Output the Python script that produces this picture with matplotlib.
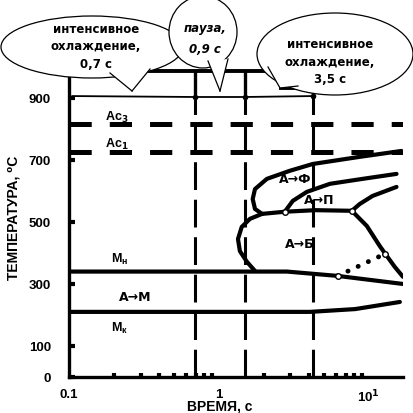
import numpy as np
import matplotlib
matplotlib.use("Agg")
import matplotlib.pyplot as plt
from matplotlib.patches import Ellipse, Polygon

plt.rcParams['font.family'] = ['Liberation Sans', 'DejaVu Sans']
plt.rcParams['font.weight'] = 'bold'
plt.rcParams['lines.scale_dashes'] = False

# critical temperatures, C
ac3 = 815
ac1 = 727
# moments of the cooling steps, s
step_times = [0.69, 1.49, 4.23]

# transformation curves (time s, temperature C)
ferrite_start_t = [16.5, 8.7, 4.23, 2.97, 2.09, 1.74, 1.68, 1.74, 1.94]
ferrite_start_T = [729, 710, 687, 665, 639, 606, 574, 542, 526]
pearlite_start_t = [15.3, 9.1, 5.5, 3.86, 3.11, 2.75]
pearlite_start_T = [655, 639, 623, 597, 568, 533]
pearlite_end_t = [15.3, 10.6, 8.7, 7.7]
pearlite_end_T = [613, 584, 558, 536]
bay_t = [1.94, 2.75, 4.4, 7.7]
bay_T = [526, 533, 538, 536]
bainite_start_t = [1.94, 1.61, 1.42, 1.34, 1.38, 1.54, 1.74]
bainite_start_T = [526, 510, 484, 445, 406, 371, 342]
bainite_end_t = [7.7, 9.7, 11.8, 13.2, 14.9, 16.9]
bainite_end_T = [536, 487, 423, 390, 355, 323]
dotted_t = [6.2, 12.8]
dotted_T = [326, 397]
ms_t = [0.1, 2.84, 6.2, 16.9]
ms_T = [340, 340, 326, 300]
mf_t = [0.1, 4.04, 8.1, 16.1]
mf_T = [210, 210, 219, 242]

# cooling schedule at the top
cool_t = [0.1, 0.105, 0.69, 1.49, 4.23, 4.23]
cool_T = [897, 906, 903, 903, 906, 935]
top_t = [0.30, 2.55]
top_T = [987, 987]
low_top_t = [2.6, 4.23]
low_top_T = [932, 932]

joints_t = [2.75, 7.7, 6.2, 12.8]
joints_T = [533, 536, 326, 397]

yticks = [0, 100, 300, 500, 700, 900]
xticks = [0.1, 1, 10]
xticklabels = ['0.1', '1', '10$^1$']

W, H = 413, 414
fig = plt.figure(figsize=(W / 100, H / 100), dpi=100)
ax = fig.add_axes([69 / W, 36 / H, 334 / W, 378 / H])
ax.set_xscale('log')
ax.set_xlim(0.1, 16.9)
ax.set_ylim(0, 1219)

for s in ['top', 'right']:
    ax.spines[s].set_visible(False)
ax.spines['left'].set_linewidth(2.4)
ax.spines['bottom'].set_linewidth(2.4)
ax.spines['left'].set_bounds(0, 968)

lw_main = 3.0
kw = dict(color='black', lw=lw_main, solid_capstyle='round', solid_joinstyle='round')

# critical lines
ax.axhline(ac3, color='black', lw=3.6, dashes=(16, 13))
ax.axhline(ac1, color='black', lw=3.6, dashes=(16, 13))
for t in step_times:
    ax.plot([t, t], [0, 906], color='black', lw=2.2, dashes=(20, 7))
for t in step_times[:2]:
    ax.plot([t, t], [903, 987], color='black', lw=2.4)
ax.plot([step_times[2], step_times[2]], [906, 935], color='black', lw=2.4)

ax.plot(cool_t, cool_T, color='black', lw=1.3)
ax.plot(top_t, top_T, color='black', lw=2.8)
ax.plot(low_top_t, low_top_T, color='black', lw=2.8)
ax.plot(step_times, [903, 903, 906], 'o', color='black', ms=3)

ax.plot(ferrite_start_t, ferrite_start_T, **kw)
ax.plot(pearlite_start_t, pearlite_start_T, **kw)
ax.plot(pearlite_end_t, pearlite_end_T, **kw)
ax.plot(bay_t, bay_T, **kw)
ax.plot(bainite_start_t, bainite_start_T, **kw)
ax.plot(bainite_end_t, bainite_end_T, **kw)
ax.plot(ms_t, ms_T, **kw)
ax.plot(mf_t, mf_T, **kw)
ax.plot(dotted_t, dotted_T, color='black', lw=3.5, dashes=(0.1, 8),
        dash_capstyle='round')
ax.plot(joints_t, joints_T, 'o', ms=4, mfc='white', mec='black', mew=1)

# labels inside the diagram
fs = 9
dv = ['DejaVu Sans']
ax.text(0.208, 839, 'Ac$_3$', fontsize=fs, ha='center', va='center')
ax.text(0.208, 752, 'Ac$_1$', fontsize=fs, ha='center', va='center')
ax.text(0.218, 381, 'M$_{\\mathregular{н}}$', fontsize=fs, ha='center', va='center')
ax.text(0.276, 261, 'А→М', fontsize=fs, ha='center', va='center', family=dv)
ax.text(0.218, 161, 'M$_{\\mathregular{к}}$', fontsize=fs, ha='center', va='center')
ax.text(3.21, 639, 'А→Ф', fontsize=fs, ha='center', va='center', family=dv)
ax.text(4.7, 574, 'А→П', fontsize=fs, ha='center', va='center', family=dv)
ax.text(3.46, 429, 'А→Б', fontsize=fs, ha='center', va='center', family=dv)

ax.set_yticks(yticks)
ax.set_yticklabels([str(v) for v in yticks], fontsize=9.5, fontweight='bold')
ax.tick_params(axis='y', direction='in', length=4, width=3, pad=13)
ax.set_xticks(xticks)
ax.set_xticklabels(xticklabels, fontsize=9.5, fontweight='bold')
ax.tick_params(axis='x', which='major', length=0, pad=8)
ax.tick_params(axis='x', which='minor', direction='in', length=3, width=3)
ax.xaxis.set_minor_formatter(plt.NullFormatter())

fig.text(220 / W, 1 - 407 / H, 'ВРЕМЯ, с', fontsize=10, ha='center', va='center')
fig.text(14 / W, 1 - 218 / H, 'ТЕМПЕРАТУРА, ⁰С', fontsize=10, rotation=90,
         ha='center', va='center')


# speech bubbles in pixel coordinates
def px(x, y):
    return (x / W, 1 - y / H)


def bubble(cx, cy, w, h, base1, base2, tip):
    e = Ellipse(px(cx, cy), w / W, h / H, transform=fig.transFigure,
                facecolor='white', edgecolor='black', lw=0.9, zorder=5)
    fig.patches.append(e)
    poly = Polygon([px(*base1), px(*tip), px(*base2)], closed=True,
                   transform=fig.transFigure, facecolor='white', edgecolor='none',
                   zorder=6)
    fig.patches.append(poly)
    for b in (base1, base2):
        fig.lines.append(plt.Line2D([b[0] / W, tip[0] / W], [1 - b[1] / H, 1 - tip[1] / H],
                                    transform=fig.transFigure, color='black', lw=0.9,
                                    zorder=7))


bubble(92, 48, 182, 62, (110, 74), (150, 70), (132, 92))
bubble(203, 33, 68, 72, (208, 62), (228, 60), (220, 92))
bubble(335, 55, 156, 82, (268, 68), (298, 87), (280, 89))

bfs = 8.5
fig.text(96 / W, 1 - 47 / H, 'интенсивное\nохлаждение,\n0,7 с', fontsize=bfs,
         ha='center', va='center', linespacing=1.45, zorder=8, family=dv)
fig.text(205 / W, 1 - 39 / H, 'пауза,\n0,9 с', fontsize=bfs, style='italic',
         ha='center', va='center', linespacing=1.75, zorder=8, family=dv)
fig.text(330 / W, 1 - 62 / H, 'интенсивное\nохлаждение,\n3,5 с', fontsize=bfs,
         ha='center', va='center', linespacing=1.45, zorder=8, family=dv)

fig.savefig('out.png', dpi=100)
